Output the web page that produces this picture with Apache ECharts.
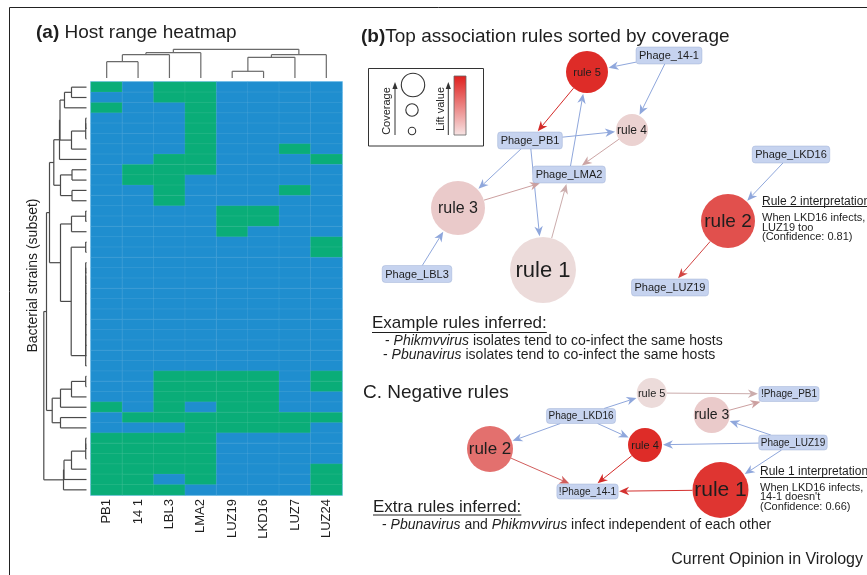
<!DOCTYPE html>
<html><head><meta charset="utf-8">
<script src="https://cdn.jsdelivr.net/npm/echarts@6/dist/echarts.min.js"></script>
<style>html,body{margin:0;padding:0;background:#fff}#c{width:867px;height:575px}</style>
</head><body><div id="c"></div>
<script>
// ------------------------- DATA -------------------------
const phages = ['PB1','14 1','LBL3','LMA2','LUZ19','LKD16','LUZ7','LUZ24'];
const strains = ['S01','S02','S03','S04','S05','S06','S07','S08','S09','S10','S11','S12','S13','S14','S15','S16','S17','S18','S19','S20',
                 'S21','S22','S23','S24','S25','S26','S27','S28','S29','S30','S31','S32','S33','S34','S35','S36','S37','S38','S39','S40'];
// 1 = infected (green), 0 = not infected (blue); one string per strain, one char per phage
const hostRange = [
 '10110000','00110000','10010000','00010000','00010000','00010000','00010010','00110001',
 '01110000','01100000','00100010','00100000','00001100','00001100','00001000','00000001',
 '00000001','00000000','00000000','00000000','00000000','00000000','00000000','00000000',
 '00000000','00000000','00000000','00000000','00111101','00111101','00111100','10101100',
 '01111111','00011110','11110000','11110000','11110000','11110001','11010001','11100001'
];
// linkage: [childA, childB, mergeHeight]; ids >= n refer to earlier merges
const colLinkage = [[0,1,16.3],[8,2,23.3],[9,3,25.3],[4,5,6.7],[11,6,20.7],[12,7,23.3],[10,13,28.7]];
const rowLinkage = [
 [0,1,15],[40,2,22],[3,4,0.8],[42,5,0.8],[43,6,15],[41,44,26.5],[45,7,27],[8,9,14.5],[10,11,14.5],[47,48,26],
 [46,49,32.7],[12,13,0.8],[51,14,15],[15,16,0.8],[17,18,0.8],[54,19,0.8],[55,20,0.8],[56,21,0.8],[57,22,0.8],[58,23,0.8],
 [59,24,0.8],[60,25,0.8],[61,26,0.8],[62,27,0.8],[53,63,15.3],[52,64,26],[50,65,37],[28,29,0.8],[67,30,15],[68,31,26],
 [32,33,26],[69,70,34.3],[66,71,40],[34,35,0.8],[73,36,0.8],[74,37,15],[75,38,22.5],[76,39,23],[72,77,42.7]
];

// (b) positive rules
const rulesB = ['rule 1','rule 2','rule 3','rule 4','rule 5'];
const coverageB = [0.33, 0.27, 0.27, 0.16, 0.21];
const liftB = [1.03, 1.80, 1.12, 1.08, 2.00];
const phageNodesB = ['Phage_14-1','Phage_PB1','Phage_LMA2','Phage_LBL3','Phage_LKD16','Phage_LUZ19'];
const edgesB = [
 ['Phage_14-1','rule 5'],['Phage_14-1','rule 4'],['rule 5','Phage_PB1'],['Phage_PB1','rule 4'],
 ['Phage_PB1','rule 3'],['Phage_PB1','rule 1'],['rule 4','Phage_LMA2'],['rule 3','Phage_LMA2'],
 ['rule 1','Phage_LMA2'],['Phage_LMA2','rule 5'],['Phage_LBL3','rule 3'],['Phage_LKD16','rule 2'],
 ['rule 2','Phage_LUZ19']
];
// (c) negative rules
const rulesC = ['rule 1','rule 2','rule 3','rule 4','rule 5'];
const coverageC = [0.28, 0.23, 0.18, 0.17, 0.15];
const liftC = [1.95, 1.62, 1.12, 2.00, 1.03];
const phageNodesC = ['Phage_LKD16','Phage_LUZ19','!Phage_PB1','!Phage_14-1'];
const edgesC = [
 ['Phage_LKD16','rule 5'],['rule 5','!Phage_PB1'],['rule 3','!Phage_PB1'],['Phage_LUZ19','rule 3'],
 ['Phage_LKD16','rule 2'],['Phage_LKD16','rule 4'],['Phage_LUZ19','rule 4'],['Phage_LUZ19','rule 1'],
 ['rule 2','!Phage_14-1'],['rule 4','!Phage_14-1'],['rule 1','!Phage_14-1']
];

// ------------------------- LAYOUT / STYLE -------------------------
const layoutB = {
 'Phage_14-1':[669,55.5],'rule 5':[587,72],'rule 4':[632,130],'Phage_PB1':[530,140.5],'Phage_LMA2':[569,174.5],
 'rule 3':[458,208],'rule 1':[543,270],'Phage_LBL3':[417,274],'Phage_LKD16':[791,154.5],'rule 2':[728,221],'Phage_LUZ19':[670,287.5]
};
const layoutC = {
 'rule 5':[651.7,393],'!Phage_PB1':[789,394],'rule 3':[711.7,415],'Phage_LKD16':[581,416],'rule 2':[490,449],
 'rule 4':[645,445],'Phage_LUZ19':[793,442.5],'rule 1':[720.5,490],'!Phage_14-1':[587.5,491.5]
};
const labelSizeB = {'rule 1':22,'rule 2':19,'rule 3':16,'rule 4':12,'rule 5':11};
const labelSizeC = {'rule 1':21,'rule 2':17,'rule 3':14,'rule 4':11,'rule 5':11};

const FONT = '"Liberation Sans", Arial, Helvetica, sans-serif';
const TXT = '#1e1e1e';
const BLUE = '#1f8ecf', GREEN = '#0aad78';
const ANTE_EDGE = '#8fa7dc';
const BOX_FILL = '#c6d3ef';
const RADIUS_SCALE = 100;

const mctx = document.createElement('canvas').getContext('2d');
function textW(t, size, weight) { mctx.font = (weight || 'normal') + ' ' + size + 'px ' + FONT; return mctx.measureText(t).width; }
function mix(a, b, t) { return 'rgb(' + a.map((v, i) => Math.round(v + (b[i] - v) * t)).join(',') + ')'; }
function liftT(l) { return Math.max(0, Math.min(1, (l - 1) / 1)); }
const nodeColor = t => mix([236,224,224],[222,44,40],t);
const edgeColor = t => mix([203,176,176],[212,42,40],t);

function buildNodes(rules, cov, lift, phs, layout, lsize, boxFont, boxPad, boxH) {
  const m = {};
  rules.forEach((r, i) => { m[r] = {kind:'rule', name:r, pos:layout[r], r:cov[i] * RADIUS_SCALE, t:liftT(lift[i]), fs:lsize[r]}; });
  phs.forEach(p => { m[p] = {kind:'phage', name:p, pos:layout[p], w:textW(p, boxFont) + boxPad, h:boxH, fs:boxFont}; });
  return m;
}
const nodesB = buildNodes(rulesB, coverageB, liftB, phageNodesB, layoutB, labelSizeB, 11, 6, 17);
const nodesC = buildNodes(rulesC, coverageC, liftC, phageNodesC, layoutC, labelSizeC, 10, 4, 15);

function boundary(n, ux, uy) {
  if (n.kind === 'rule') return n.r;
  const tx = Math.abs(ux) > 1e-6 ? (n.w / 2) / Math.abs(ux) : Infinity;
  const ty = Math.abs(uy) > 1e-6 ? (n.h / 2) / Math.abs(uy) : Infinity;
  return Math.min(tx, ty);
}

function edgeSeries(edges, nodes) {
  return {
    type:'custom', coordinateSystem:'cartesian2d', xAxisIndex:3, yAxisIndex:3, z:3, silent:true, clip:false,
    data: edges.map(e => nodes[e[0]].pos.slice()),
    renderItem(params, api) {
      const e = edges[params.dataIndex];
      const s = nodes[e[0]], t = nodes[e[1]];
      const p1 = api.coord(s.pos), p2 = api.coord(t.pos);
      const dx = p2[0] - p1[0], dy = p2[1] - p1[1], len = Math.hypot(dx, dy);
      const ux = dx / len, uy = dy / len;
      const a = boundary(s, ux, uy), b = boundary(t, ux, uy) + 1;
      const sx = p1[0] + ux * a, sy = p1[1] + uy * a;
      const tx = p2[0] - ux * b, ty = p2[1] - uy * b;
      const L = 10, W = 4.2, N = 3;
      const bx = tx - ux * L, by = ty - uy * L, nx = -uy, ny = ux;
      const kx = tx - ux * (L - N), ky = ty - uy * (L - N);
      const col = s.kind === 'rule' ? edgeColor(s.t) : ANTE_EDGE;
      return {type:'group', children:[
        {type:'line', shape:{x1:sx, y1:sy, x2:kx, y2:ky}, style:{stroke:col, lineWidth:1}},
        {type:'polygon', shape:{points:[[tx,ty],[bx + nx * W, by + ny * W],[kx,ky],[bx - nx * W, by - ny * W]]}, style:{fill:col}}
      ]};
    }
  };
}
function nodeSeries(nodes) {
  const list = Object.values(nodes);
  return {
    type:'custom', coordinateSystem:'cartesian2d', xAxisIndex:3, yAxisIndex:3, z:4, silent:true, clip:false,
    data: list.map(n => n.pos.slice()),
    renderItem(params, api) {
      const n = list[params.dataIndex];
      const c = api.coord(n.pos);
      const shape = n.kind === 'rule'
        ? {type:'circle', shape:{cx:c[0], cy:c[1], r:n.r}, style:{fill:nodeColor(n.t)}}
        : {type:'rect', shape:{x:c[0] - n.w / 2, y:c[1] - n.h / 2, width:n.w, height:n.h, r:3},
           style:{fill:BOX_FILL, stroke:'rgba(150,168,210,0.7)', lineWidth:0.6}};
      return {type:'group', children:[shape,
        {type:'text', style:{text:n.name, x:c[0], y:c[1] + 0.5, align:'center', verticalAlign:'middle',
          fontSize:n.fs, fontFamily:FONT, fill:TXT}}]};
    }
  };
}

function dendroSegments(linkage, n) {
  const pos = [], h = [], segs = [];
  for (let i = 0; i < n; i++) { pos[i] = i + 0.5; h[i] = 0; }
  linkage.forEach((m, k) => {
    const [a, b, H] = m, id = n + k;
    segs.push([pos[a], h[a], pos[a], H]);
    segs.push([pos[a], H, pos[b], H]);
    segs.push([pos[b], H, pos[b], h[b]]);
    pos[id] = (pos[a] + pos[b]) / 2; h[id] = H;
  });
  return segs;
}
const colSegs = dendroSegments(colLinkage, phages.length);
const rowSegs = dendroSegments(rowLinkage, strains.length).map(s => [s[1], s[0], s[3], s[2]]);

const heatData = [];
hostRange.forEach((row, y) => row.split('').forEach((v, x) => heatData.push([x, y, +v])));

// ------------------------- GRAPHICS (text, legend, frame) -------------------------
const g = [];
function txt(text, x, y, size, extra) {
  g.push(Object.assign({type:'text', x:x, y:y, silent:true, style:Object.assign({text:text, fontSize:size, fontFamily:FONT, fill:TXT,
    align:'left', verticalAlign:'middle'}, extra || {})}));
}
function underline(x, y, w) { g.push({type:'line', silent:true, shape:{x1:x, y1:y, x2:x + w, y2:y}, style:{stroke:TXT, lineWidth:1}}); }

g.push({type:'rect', silent:true, shape:{x:9.5, y:7.5, width:900, height:620}, style:{fill:'none', stroke:'#222', lineWidth:1}});
txt('{b|(a)} Host range heatmap', 36, 32.5, 19, {rich:{b:{fontWeight:'bold', fontSize:19, fontFamily:FONT}}});
txt('{b|(b)}Top association rules sorted by coverage', 361, 36.5, 19, {rich:{b:{fontWeight:'bold', fontSize:19, fontFamily:FONT}}});
g.push({type:'text', x:33, y:275.5, rotation:Math.PI / 2, silent:true,
  style:{text:'Bacterial strains (subset)', fontSize:14, fontFamily:FONT, fill:TXT, align:'center', verticalAlign:'middle'}});
g.push({type:'rect', silent:true, shape:{x:90.5, y:81.5, width:252, height:414}, style:{fill:'none', stroke:'rgba(130,200,238,0.9)', lineWidth:1}});

// legend box
g.push({type:'rect', silent:true, shape:{x:368.5, y:68.5, width:115, height:77.5}, style:{fill:'none', stroke:'#333', lineWidth:1}});
[[413,85,11.7],[412,110,6.2],[412,131,3.7]].forEach(c => g.push({type:'circle', silent:true, shape:{cx:c[0], cy:c[1], r:c[2]}, style:{fill:'none', stroke:'#333', lineWidth:1.1}}));
g.push({type:'text', x:387, y:111, rotation:Math.PI / 2, silent:true, style:{text:'Coverage', fontSize:11, fontFamily:FONT, fill:TXT, align:'center', verticalAlign:'middle'}});
g.push({type:'text', x:441, y:109, rotation:Math.PI / 2, silent:true, style:{text:'Lift value', fontSize:11, fontFamily:FONT, fill:TXT, align:'center', verticalAlign:'middle'}});
[395, 448.3].forEach(x => {
  g.push({type:'line', silent:true, shape:{x1:x, y1:135, x2:x, y2:87}, style:{stroke:'#333', lineWidth:1}});
  g.push({type:'polygon', silent:true, shape:{points:[[x,82],[x - 2.6,89],[x + 2.6,89]]}, style:{fill:'#333'}});
});
g.push({type:'rect', silent:true, shape:{x:454, y:76, width:12, height:59},
  style:{stroke:'#666', lineWidth:0.8, fill:{type:'linear', x:0, y:0, x2:0, y2:1, colorStops:[{offset:0, color:'#df1f1d'},{offset:1, color:'#f7e4e4'}]}}});

// annotations
txt('Rule 2 interpretation:', 762, 201.5, 12);
underline(762, 206.5, textW('Rule 2 interpretation:', 12));
txt('When LKD16 infects,\nLUZ19 too\n(Confidence: 0.81)', 762, 213.2, 11, {verticalAlign:'top', lineHeight:9.6});
txt('Example rules inferred:', 372, 323.5, 17);
underline(372, 332.5, textW('Example rules inferred:', 17));
const richI = {i:{fontStyle:'italic', fontSize:14, fontFamily:FONT}};
txt('- {i|Phikmvvirus} isolates tend to co-infect the same hosts', 385, 341, 14, {rich:richI});
txt('- {i|Pbunavirus} isolates tend to co-infect the same hosts', 383, 355.2, 14, {rich:richI});
txt('C. Negative rules', 363, 392.8, 19);
txt('Rule 1 interpretation:', 760, 472, 12);
underline(760, 477.5, textW('Rule 1 interpretation:', 12));
txt("When LKD16 infects,\n14-1 doesn't\n(Confidence: 0.66)", 760, 483.4, 11, {verticalAlign:'top', lineHeight:9.3});
txt('Extra rules inferred:', 373, 506.9, 17);
underline(373, 515, textW('Extra rules inferred:', 17));
txt('- {i|Pbunavirus} and {i|Phikmvvirus} infect independent of each other', 382, 525.3, 14, {rich:richI});
txt('Current Opinion in Virology', 863, 559.5, 16, {align:'right'});

// ------------------------- CHART -------------------------
const chart = echarts.init(document.getElementById('c'));
chart.setOption({
  animation:false,
  backgroundColor:'#fff',
  grid:[
    {left:91, top:82, width:251, height:413},
    {left:91, top:48, width:251, height:30},
    {left:40, top:82, width:46.5, height:413},
    {left:0, top:0, width:867, height:575}
  ],
  xAxis:[
    {type:'category', gridIndex:0, data:phages, axisLine:{show:false}, axisTick:{show:false}, splitLine:{show:false},
     axisLabel:{rotate:90, margin:4, fontSize:13, fontFamily:FONT, color:TXT, interval:0}},
    {type:'value', gridIndex:1, min:0, max:8, show:false},
    {type:'value', gridIndex:2, min:0, max:46.5, inverse:true, show:false},
    {type:'value', gridIndex:3, min:0, max:867, show:false}
  ],
  yAxis:[
    {type:'category', gridIndex:0, data:strains, inverse:true, show:false},
    {type:'value', gridIndex:1, min:0, max:30, show:false},
    {type:'value', gridIndex:2, min:0, max:40, inverse:true, show:false},
    {type:'value', gridIndex:3, min:0, max:575, inverse:true, show:false}
  ],
  visualMap:{type:'piecewise', show:false, seriesIndex:0, dimension:2,
    pieces:[{value:0, color:BLUE},{value:1, color:GREEN}]},
  graphic:{elements:g},
  series:[
    {type:'heatmap', xAxisIndex:0, yAxisIndex:0, data:heatData, silent:true,
     itemStyle:{borderColor:'rgba(255,255,255,0.13)', borderWidth:0.6}, emphasis:{disabled:true}},
    {type:'custom', coordinateSystem:'cartesian2d', xAxisIndex:1, yAxisIndex:1, data:colSegs, silent:true, clip:false,
     renderItem(params, api) {
       const a = api.coord([api.value(0), api.value(1)]), b = api.coord([api.value(2), api.value(3)]);
       return {type:'line', shape:{x1:a[0], y1:a[1], x2:b[0], y2:b[1]}, style:{stroke:'#6a6a6a', lineWidth:1.2}};
     }},
    {type:'custom', coordinateSystem:'cartesian2d', xAxisIndex:2, yAxisIndex:2, data:rowSegs, silent:true, clip:false,
     renderItem(params, api) {
       const a = api.coord([api.value(0), api.value(1)]), b = api.coord([api.value(2), api.value(3)]);
       return {type:'line', shape:{x1:a[0], y1:a[1], x2:b[0], y2:b[1]}, style:{stroke:'#4a4a4a', lineWidth:1.2}};
     }},
    edgeSeries(edgesB, nodesB),
    nodeSeries(nodesB),
    edgeSeries(edgesC, nodesC),
    nodeSeries(nodesC)
  ]
});
</script></body></html>
